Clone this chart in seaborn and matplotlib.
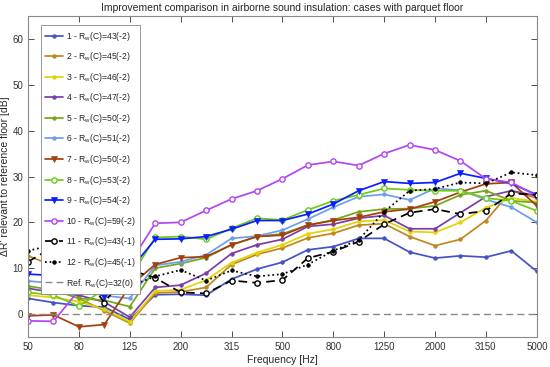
import numpy as np
import pandas as pd
import seaborn as sns
import matplotlib
matplotlib.use('Agg')
import matplotlib.pyplot as plt

# third-octave bands, 50 Hz - 5000 Hz
freqs = [50, 63, 80, 100, 125, 160, 200, 250, 315, 400, 500, 630, 800,
         1000, 1250, 1600, 2000, 2500, 3150, 4000, 5000]
tick_labels = ['50', '80', '125', '200', '315', '500', '800', '1250', '2000', '3150', '5000']

s1 = [3.4, 2.5, 1.8, 1.5, -1.2, 4.2, 4.3, 4.1, 7.6, 9.8, 11.3, 14.0, 14.7, 16.5, 16.5, 13.5, 12.2, 12.7, 12.4, 13.8, 9.3]
s2 = [12.7, 10.5, 3.4, 0.7, -2.0, 4.6, 4.8, 5.8, 10.8, 13.0, 14.4, 16.6, 17.6, 19.4, 19.7, 16.9, 14.9, 16.3, 20.4, 26.9, 25.3]
s3 = [4.1, 3.6, 2.7, 1.0, -1.7, 5.0, 5.3, 7.4, 11.2, 13.4, 15.1, 17.5, 18.5, 20.2, 20.5, 18.0, 17.8, 20.0, 23.2, 25.3, 24.5]
s4 = [5.6, 4.7, 4.1, 2.6, -0.7, 5.8, 6.3, 8.9, 13.2, 15.1, 16.3, 19.1, 19.6, 20.9, 21.5, 18.6, 18.6, 22.1, 25.6, 26.9, 25.8]
s5 = [6.1, 5.2, 3.4, 3.0, 1.6, 10.0, 11.0, 12.3, 15.1, 16.9, 17.5, 19.4, 20.5, 22.3, 22.9, 23.0, 23.6, 26.0, 26.9, 24.7, 24.3]
s6 = [7.2, 6.7, 5.2, 4.0, 3.4, 10.6, 11.4, 12.9, 16.5, 17.0, 18.3, 20.7, 23.3, 25.6, 26.1, 24.9, 27.4, 27.0, 25.0, 23.3, 20.0]
s7 = [-0.4, -0.2, -2.8, -2.3, 6.1, 10.8, 12.3, 12.5, 15.1, 16.9, 17.2, 19.4, 20.4, 21.1, 22.3, 22.9, 24.5, 26.6, 28.4, 28.7, 23.6]
s8 = [4.7, 4.1, 1.7, 5.4, 7.8, 16.7, 16.9, 16.3, 18.7, 20.9, 20.5, 22.7, 24.7, 26.0, 27.4, 27.1, 26.9, 26.9, 25.3, 24.7, 22.5]
s9 = [8.7, 8.4, 7.0, 3.8, 9.6, 16.3, 16.4, 16.9, 18.5, 20.4, 20.4, 21.8, 24.0, 26.9, 28.9, 28.5, 28.7, 30.7, 29.6, 28.5, 26.0]
s10 = [-1.5, -1.6, 5.2, 8.7, 11.1, 19.8, 20.0, 22.6, 25.1, 26.9, 29.5, 32.5, 33.3, 32.4, 35.0, 36.9, 35.8, 33.4, 29.5, 28.7, 25.8]
s11 = [11.4, 14.7, 10.0, 2.5, 9.6, 7.9, 4.7, 4.5, 7.3, 6.8, 7.4, 12.2, 13.6, 15.8, 19.6, 22.1, 22.9, 21.8, 22.5, 26.3, 26.0]
s12 = [13.8, 15.1, 11.8, 6.3, 6.1, 8.2, 9.6, 7.3, 9.5, 8.2, 8.7, 10.8, 13.8, 16.2, 22.3, 26.9, 27.3, 28.7, 28.5, 30.9, 30.3]
ref = [0.0] * len(freqs)

labels = [r'1 - R$_\mathrm{w}$(C)=43(-2)', r'2 - R$_\mathrm{w}$(C)=45(-2)',
          r'3 - R$_\mathrm{w}$(C)=46(-2)', r'4 - R$_\mathrm{w}$(C)=47(-2)',
          r'5 - R$_\mathrm{w}$(C)=50(-2)', r'6 - R$_\mathrm{w}$(C)=51(-2)',
          r'7 - R$_\mathrm{w}$(C)=50(-2)', r'8 - R$_\mathrm{w}$(C)=53(-2)',
          r'9 - R$_\mathrm{w}$(C)=54(-2)', r'10 - R$_\mathrm{w}$(C)=59(-2)',
          r'11 - R$_\mathrm{w}$(C)=43(-1)', r'12 - R$_\mathrm{w}$(C)=45(-1)']
ref_label = r'Ref. R$_\mathrm{w}$(C)=32(0)'

series = [s1, s2, s3, s4, s5, s6, s7, s8, s9, s10, s11, s12]

# (colour, linestyle, marker, open marker)
styles = [
    ('#4552c6', '-', 'o', False),
    ('#c0871e', '-', 'o', False),
    ('#e2d400', '-', 'o', False),
    ('#7a3ea6', '-', 'o', False),
    ('#78a51a', '-', 'o', False),
    ('#6c9ef0', '-', 'o', False),
    ('#a4400e', '-', 'v', False),
    ('#6ccc12', '-', 'o', True),
    ('#0a1eff', '-', 'v', False),
    ('#b245f2', '-', 'o', True),
    ('black', (0, (5, 3)), 'o', True),
    ('black', ':', 'o', False),
]

sns.set_style('ticks')
plt.rcParams['font.family'] = ['Liberation Sans', 'DejaVu Sans']
plt.rcParams['mathtext.fontset'] = 'custom'
plt.rcParams['mathtext.rm'] = 'Liberation Sans'

fig = plt.figure(figsize=(5.5, 3.67), dpi=100)
ax = fig.add_axes([0.051, 0.082, 0.925, 0.874])

x = np.arange(len(freqs))
for vals, lab, (col, ls, mk, hollow) in zip(series, labels, styles):
    if hollow:
        ms = 3.8
    elif mk == 'v':
        ms = 4.0
    else:
        ms = 2.6
    sns.lineplot(x=x, y=vals, ax=ax, color=col, linestyle=ls, linewidth=1.25,
                 marker=mk, markersize=ms,
                 markerfacecolor='white' if hollow else col,
                 markeredgecolor=col, markeredgewidth=1.0 if hollow else 0.5,
                 label=lab)
sns.lineplot(x=x, y=ref, ax=ax, color='#888888', linestyle=(0, (5, 3)),
             linewidth=1.0, label=ref_label)

ax.set_xlim(0, len(freqs) - 1)
ax.set_ylim(-5, 65)
ax.set_xticks(x[::2])
ax.set_xticklabels(tick_labels)
ax.set_yticks(range(0, 61, 10))
ax.tick_params(direction='in', top=True, right=True, labelsize=7, length=4,
               colors='#333333', width=0.6)
for sp in ax.spines.values():
    sp.set_color('#888888')
    sp.set_linewidth(0.8)

ax.set_xlabel('Frequency [Hz]', fontsize=7.5, labelpad=2)
ax.set_ylabel("ΔR' relevant to reference floor [dB]", fontsize=7.5, labelpad=2)
ax.set_title('Improvement comparison in airborne sound insulation: cases with parquet floor',
             fontsize=7.5, pad=4)

leg = ax.legend(loc='upper left', bbox_to_anchor=(0.017, 0.985), fontsize=6.2,
                labelspacing=0.88, handlelength=2.0, handletextpad=0.45,
                borderpad=0.5, fancybox=False, framealpha=1)
leg.get_frame().set_edgecolor('#888888')
leg.get_frame().set_linewidth(0.6)

fig.savefig('out.png', dpi=100)
